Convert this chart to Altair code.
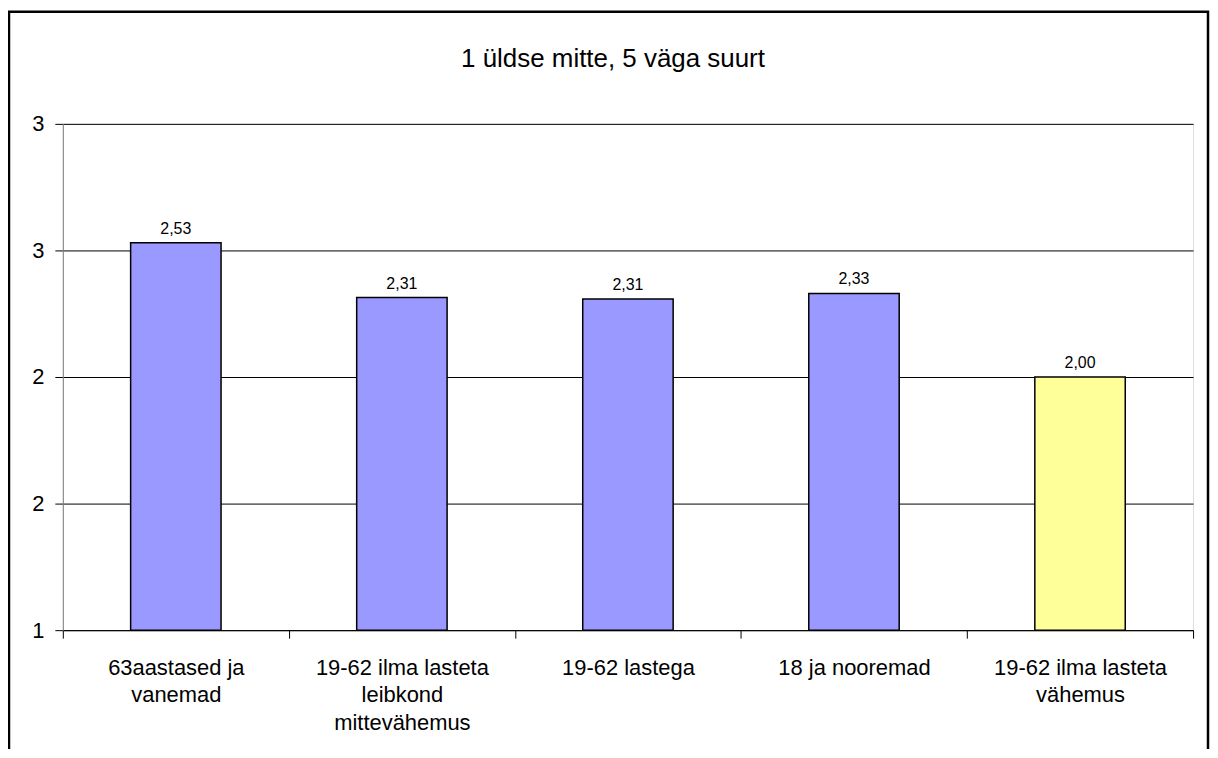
import altair as alt
import pandas as pd

categories = [
    "63aastased ja\nvanemad",
    "19-62 ilma lasteta\nleibkond\nmittevähemus",
    "19-62 lastega",
    "18 ja nooremad",
    "19-62 ilma lasteta\nvähemus",
]
values = [2.53, 2.314, 2.308, 2.33, 2.00]
groups = ["muu", "muu", "muu", "muu", "vähemus"]
y_ticks = [1, 1.5, 2, 2.5, 3]

df = pd.DataFrame({"cat": categories, "value": values, "group": groups})

FONT = "Liberation Sans"

base = alt.Chart(df).encode(
    x=alt.X(
        "cat:N",
        sort=categories,
        title=None,
        scale=alt.Scale(paddingInner=0, paddingOuter=0),
        axis=alt.Axis(
            labelAngle=0,
            labelExpr="split(datum.label, '\\n')",
            labelLineHeight=28,
            labelFontSize=22,
            labelFont=FONT,
            labelColor="black",
            labelBaseline="top",
            labelPadding=19,
            tickBand="extent",
            ticks=True,
            tickSize=8,
            tickColor="black",
            domainColor="black",
            grid=False,
            labelLimit=400,
        ),
    )
)

bars = base.mark_bar(
    width=alt.RelativeBandSize(0.4), stroke="black", strokeWidth=1.5
).encode(
    y=alt.Y(
        "value:Q",
        title=None,
        scale=alt.Scale(domain=[1, 3], zero=False, nice=False),
        axis=alt.Axis(
            values=y_ticks,
            labelExpr="round(datum.value)",
            labelFontSize=22,
            labelFont=FONT,
            labelColor="black",
            labelPadding=11,
            tickSize=8,
            tickColor="black",
            domainColor="#808080",
            grid=True,
            gridColor="black",
            gridOpacity=1,
        ),
    ),
    y2=alt.datum(1),
    color=alt.Color(
        "group:N",
        scale=alt.Scale(domain=["muu", "vähemus"], range=["#9999FF", "#FFFF99"]),
        legend=None,
    ),
)

labels = base.mark_text(
    font=FONT, fontSize=16, color="black", baseline="alphabetic", dy=-9
).transform_calculate(
    label="replace(format(datum.value, '.2f'), '.', ',')"
).encode(
    y=alt.Y("value:Q"),
    text="label:N",
)

frame = alt.Chart(pd.DataFrame({"f": [0]})).mark_rect(
    fill=None, stroke="black", strokeWidth=2.5
).encode(
    x=alt.value(-54),
    x2=alt.value(1149),
    y=alt.value(-112.5),
    y2=alt.value(900),
)

chart = alt.layer(bars, labels, frame).properties(
    width=1134,
    height=508,
    autosize=alt.AutoSizeParams(type="none"),
    padding={"left": 55, "top": 115, "right": 17, "bottom": 118},
    title=alt.Title(
        "1 üldse mitte, 5 väga suurt",
        font=FONT,
        fontSize=26,
        fontWeight="normal",
        color="black",
        anchor="middle",
        dx=-15,
        dy=62,
        offset=0,
    ),
).configure_view(stroke=None).configure(background="white")

chart.save("out.html", embed_options={"renderer": "svg", "actions": False})
